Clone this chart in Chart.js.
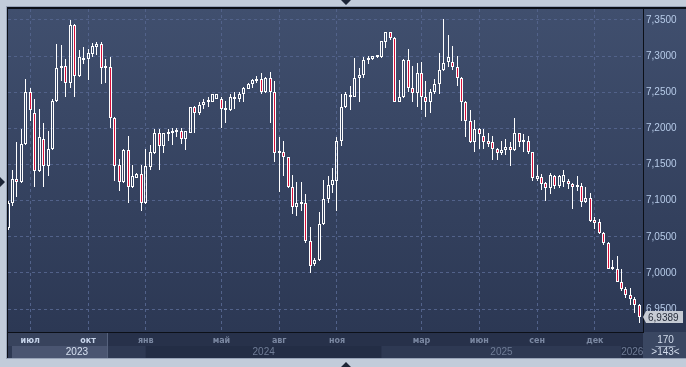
<!DOCTYPE html>
<html lang="ru">
<head>
<meta charset="UTF-8">
<title>Недельные свечи</title>
<script src="https://cdn.jsdelivr.net/npm/chart.js"></script>
<style>
  html, body { margin: 0; padding: 0; background: #c2ccda; }
  canvas { display: block; }
</style>
</head>
<body>
<canvas id="candleChart" width="686" height="367"></canvas>
<script>
// weekly candles (143 shown)
const opens = [
  7.062, 7.097, 7.130, 7.126, 7.179, 7.250, 7.221, 7.141, 7.186, 7.148,
  7.172, 7.238, 7.284, 7.287, 7.263, 7.343, 7.273, 7.295, 7.296, 7.303,
  7.313, 7.317, 7.284, 7.285, 7.214, 7.149, 7.126, 7.170, 7.119, 7.132,
  7.137, 7.097, 7.146, 7.166, 7.194, 7.175, 7.192, 7.193, 7.195, 7.197,
  7.186, 7.194, 7.229, 7.221, 7.233, 7.236, 7.237, 7.241, 7.241, 7.225,
  7.225, 7.241, 7.241, 7.248, 7.255, 7.262, 7.265, 7.268, 7.250, 7.270,
  7.250, 7.166, 7.168, 7.160, 7.119, 7.091, 7.097, 7.097, 7.044, 7.013,
  7.018, 7.068, 7.102, 7.121, 7.127, 7.182, 7.229, 7.245, 7.244, 7.270,
  7.274, 7.295, 7.296, 7.299, 7.299, 7.320, 7.333, 7.325, 7.237, 7.243,
  7.295, 7.256, 7.249, 7.277, 7.244, 7.237, 7.250, 7.262, 7.281, 7.292,
  7.292, 7.285, 7.270, 7.237, 7.210, 7.181, 7.199, 7.190, 7.182, 7.181,
  7.172, 7.166, 7.170, 7.174, 7.170, 7.193, 7.181, 7.183, 7.167, 7.130,
  7.133, 7.124, 7.117, 7.134, 7.120, 7.126, 7.127, 7.123, 7.119, 7.120,
  7.098, 7.104, 7.073, 7.070, 7.055, 7.042, 7.006, 7.005, 6.988, 6.978,
  6.970, 6.964, 6.956
];
const highs = [
  7.100, 7.142, 7.181, 7.199, 7.269, 7.256, 7.241, 7.227, 7.207, 7.196,
  7.240, 7.317, 7.316, 7.296, 7.350, 7.345, 7.309, 7.313, 7.310, 7.318,
  7.320, 7.320, 7.296, 7.299, 7.216, 7.157, 7.171, 7.189, 7.150, 7.138,
  7.150, 7.171, 7.177, 7.199, 7.199, 7.194, 7.199, 7.200, 7.200, 7.200,
  7.197, 7.230, 7.231, 7.236, 7.240, 7.244, 7.248, 7.248, 7.244, 7.238,
  7.247, 7.250, 7.250, 7.257, 7.263, 7.269, 7.273, 7.277, 7.271, 7.278,
  7.266, 7.188, 7.183, 7.161, 7.135, 7.126, 7.126, 7.109, 7.064, 7.020,
  7.084, 7.128, 7.134, 7.145, 7.188, 7.248, 7.250, 7.259, 7.298, 7.283,
  7.299, 7.300, 7.300, 7.300, 7.321, 7.334, 7.334, 7.326, 7.267, 7.296,
  7.310, 7.287, 7.291, 7.292, 7.266, 7.254, 7.269, 7.305, 7.351, 7.329,
  7.314, 7.300, 7.271, 7.238, 7.226, 7.211, 7.200, 7.199, 7.193, 7.189,
  7.173, 7.183, 7.185, 7.181, 7.214, 7.194, 7.192, 7.189, 7.168, 7.150,
  7.137, 7.126, 7.138, 7.135, 7.135, 7.143, 7.130, 7.124, 7.134, 7.124,
  7.119, 7.110, 7.077, 7.075, 7.057, 7.043, 7.018, 7.024, 7.006, 6.980,
  6.979, 6.967, 6.957
];
const lows = [
  7.060, 7.092, 7.105, 7.124, 7.177, 7.210, 7.119, 7.139, 7.119, 7.134,
  7.170, 7.236, 7.265, 7.243, 7.256, 7.244, 7.271, 7.289, 7.267, 7.299,
  7.302, 7.261, 7.263, 7.201, 7.127, 7.113, 7.124, 7.097, 7.117, 7.131,
  7.086, 7.095, 7.143, 7.164, 7.143, 7.166, 7.182, 7.177, 7.188, 7.179,
  7.170, 7.193, 7.193, 7.219, 7.227, 7.230, 7.236, 7.240, 7.200, 7.207,
  7.224, 7.227, 7.237, 7.237, 7.254, 7.256, 7.263, 7.248, 7.249, 7.207,
  7.154, 7.112, 7.134, 7.118, 7.081, 7.079, 7.086, 7.042, 7.000, 7.009,
  7.017, 7.067, 7.097, 7.110, 7.086, 7.175, 7.228, 7.225, 7.243, 7.237,
  7.270, 7.289, 7.295, 7.298, 7.298, 7.311, 7.322, 7.236, 7.236, 7.242,
  7.250, 7.236, 7.229, 7.226, 7.216, 7.221, 7.248, 7.248, 7.280, 7.285,
  7.281, 7.259, 7.210, 7.188, 7.180, 7.168, 7.171, 7.171, 7.174, 7.156,
  7.156, 7.163, 7.163, 7.148, 7.169, 7.174, 7.168, 7.164, 7.127, 7.127,
  7.115, 7.100, 7.109, 7.116, 7.118, 7.119, 7.116, 7.088, 7.113, 7.091,
  7.097, 7.071, 7.061, 7.054, 7.039, 7.005, 7.004, 6.987, 6.975, 6.966,
  6.956, 6.944, 6.931
];
const closes = [
  7.097, 7.130, 7.126, 7.179, 7.250, 7.226, 7.141, 7.188, 7.148, 7.172,
  7.238, 7.284, 7.287, 7.263, 7.343, 7.273, 7.299, 7.297, 7.305, 7.314,
  7.317, 7.284, 7.286, 7.214, 7.148, 7.126, 7.170, 7.119, 7.134, 7.137,
  7.097, 7.148, 7.167, 7.194, 7.175, 7.193, 7.193, 7.196, 7.196, 7.186,
  7.196, 7.229, 7.221, 7.233, 7.236, 7.238, 7.247, 7.247, 7.227, 7.227,
  7.243, 7.244, 7.248, 7.256, 7.262, 7.267, 7.268, 7.250, 7.270, 7.250,
  7.166, 7.168, 7.160, 7.119, 7.091, 7.097, 7.096, 7.044, 7.010, 7.018,
  7.068, 7.102, 7.121, 7.128, 7.183, 7.229, 7.248, 7.244, 7.270, 7.274,
  7.295, 7.297, 7.300, 7.300, 7.321, 7.333, 7.325, 7.237, 7.243, 7.295,
  7.256, 7.249, 7.277, 7.244, 7.237, 7.250, 7.262, 7.281, 7.291, 7.299,
  7.285, 7.270, 7.237, 7.210, 7.181, 7.199, 7.192, 7.181, 7.179, 7.172,
  7.166, 7.170, 7.174, 7.170, 7.193, 7.181, 7.183, 7.167, 7.131, 7.134,
  7.123, 7.117, 7.135, 7.120, 7.134, 7.135, 7.123, 7.119, 7.121, 7.098,
  7.104, 7.072, 7.069, 7.055, 7.042, 7.006, 7.005, 6.988, 6.978, 6.970,
  6.964, 6.956, 6.9389
];

// axis labels: bar index where each month / year starts
const monthTicks = [5, 18, 31, 48, 61, 74, 93, 106, 119, 132];
const monthLabels = ['июл', 'окт', 'янв', 'май', 'авг', 'ноя', 'мар', 'июн', 'сен', 'дек'];
const yearStarts = [0, 31, 84, 138];
const yearLabels = ['2023', '2024', '2025', '2026'];
const priceTicks = [6.95, 7.00, 7.05, 7.10, 7.15, 7.20, 7.25, 7.30, 7.35];
const barsTotal = 170;
const selEnd = 22.5; // end of the highlighted navigator box

const fmt = v => v.toFixed(4).replace('.', ',');

const bodies = opens.map((o, i) => ({ x: i, y: [o, closes[i]] }));
const upperWicks = highs.map((h, i) => ({ x: i, y: [Math.max(opens[i], closes[i]), h] }));
const lowerWicks = lows.map((l, i) => ({ x: i, y: [l, Math.min(opens[i], closes[i])] }));

// snap the bars the scales placed onto whole pixels so the candles stay sharp
const snapPlugin = {
  id: 'snap',
  afterDatasetsUpdate(chart) {
    chart.data.datasets.forEach((ds, di) => {
      chart.getDatasetMeta(di).data.forEach(el => {
        el.x = Math.round(el.x - 0.5) + 0.5;
        el.y = Math.round(el.y);
        el.base = Math.round(el.base);
      });
    });
  }
};

const framePlugin = {
  id: 'frame',
  beforeDraw(chart) {
    const { ctx, chartArea: a, width, height } = chart;
    const xs = chart.scales.x;
    ctx.save();
    ctx.fillStyle = '#c2ccda';
    ctx.fillRect(0, 0, width, height);
    ctx.fillStyle = '#97a3b8';
    ctx.fillRect(6, 6, width - 6, 353);
    ctx.fillStyle = '#0c1018';
    ctx.fillRect(7, 7, width - 7, 351);

    // panel gradient (plot + price axis)
    const g = ctx.createLinearGradient(0, a.top, 0, a.bottom);
    g.addColorStop(0, '#404f6e');
    g.addColorStop(1, '#2c3854');
    ctx.fillStyle = g;
    ctx.fillRect(a.left, a.top, width - a.left, a.bottom - a.top);

    // time axis rows
    const rowTop = a.bottom + 1, rowMid = a.bottom + 14, rowBot = a.bottom + 26;
    ctx.fillStyle = '#27314a';
    ctx.fillRect(a.left, rowTop, a.right - a.left, rowBot - rowTop);
    yearStarts.forEach((s, k) => {
      const x0 = Math.max(a.left, xs.getPixelForValue(s));
      const x1 = k + 1 < yearStarts.length ? xs.getPixelForValue(yearStarts[k + 1]) : a.right;
      ctx.fillStyle = k % 2 === 0 ? '#2e3953' : '#232d45';
      ctx.fillRect(x0, rowMid, x1 - x0, rowBot - rowMid);
    });
    const sx = Math.round(xs.getPixelForValue(selEnd));
    ctx.fillStyle = '#38435d';
    ctx.fillRect(a.left, rowTop, sx - a.left, rowMid - rowTop);
    ctx.fillStyle = '#4a5571';
    ctx.fillRect(a.left + 4, rowMid, sx - a.left - 4, rowBot - rowMid);
    ctx.fillStyle = '#56627d';
    ctx.fillRect(sx - 1, rowTop, 1, rowBot - rowTop);

    // corner box
    ctx.fillStyle = '#3a4762';
    ctx.fillRect(a.right, rowTop - 1, width - a.right, rowBot - rowTop + 1);
    ctx.fillStyle = '#0c1018';
    ctx.fillRect(a.left, a.top - 1, width - a.left, 1);
    ctx.restore();
  },
  afterDraw(chart) {
    const { ctx, chartArea: a, width, height } = chart;
    const xs = chart.scales.x, ys = chart.scales.y;
    ctx.save();
    ctx.beginPath();
    ctx.rect(a.left, a.bottom, a.right - a.left, 30);
    ctx.clip();
    ctx.textAlign = 'center';
    ctx.textBaseline = 'middle';
    ctx.font = 'bold 8px "DejaVu Sans"';
    monthTicks.forEach((v, i) => {
      ctx.fillStyle = v < selEnd ? '#c9d6ec' : '#7b88a2';
      ctx.fillText(monthLabels[i], xs.getPixelForValue(v), a.bottom + 9);
    });
    ctx.font = '10px "Liberation Sans"';
    yearStarts.forEach((s, k) => {
      const x0 = xs.getPixelForValue(s);
      const x1 = k + 1 < yearStarts.length ? xs.getPixelForValue(yearStarts[k + 1]) : a.right;
      ctx.fillStyle = k === 0 ? '#d6e0f0' : '#6f7c96';
      ctx.fillText(yearLabels[k], (Math.max(x0, a.left) + x1) / 2, a.bottom + 20);
    });
    ctx.restore();

    // corner counters
    ctx.save();
    ctx.font = '10px "Liberation Sans"';
    ctx.textAlign = 'center';
    ctx.textBaseline = 'middle';
    ctx.fillStyle = '#d2dcec';
    const cx = (a.right + width) / 2 + 1;
    ctx.fillText(String(barsTotal), cx, a.bottom + 8);
    ctx.fillText('>' + closes.length + '<', cx, a.bottom + 20);
    ctx.fillStyle = '#8f9cb4';
    ctx.fillRect(cx - 10, a.bottom + 14, 20, 1);

    // last price tag
    const last = closes[closes.length - 1];
    const py = Math.round(ys.getPixelForValue(last));
    ctx.fillStyle = '#c6cbd4';
    ctx.beginPath();
    ctx.moveTo(a.right, py);
    ctx.lineTo(a.right + 3, py - 6);
    ctx.lineTo(width - 3, py - 6);
    ctx.lineTo(width - 3, py + 6);
    ctx.lineTo(a.right + 3, py + 6);
    ctx.closePath();
    ctx.fill();
    ctx.fillStyle = '#262d3b';
    ctx.textAlign = 'left';
    ctx.fillText(fmt(last), a.right + 5, py + 1);

    // navigator markers
    ctx.fillStyle = '#1c2536';
    ctx.beginPath();
    ctx.moveTo(341, 0); ctx.lineTo(351, 0); ctx.lineTo(346, 5); ctx.closePath();
    ctx.moveTo(341, height); ctx.lineTo(351, height); ctx.lineTo(346, height - 5); ctx.closePath();
    ctx.moveTo(0, 177); ctx.lineTo(0, 187); ctx.lineTo(5, 182); ctx.closePath();
    ctx.fill();
    ctx.restore();
  }
};

new Chart(document.getElementById('candleChart'), {
  type: 'bar',
  data: {
    datasets: [
      {
        data: bodies,
        barThickness: 3,
        borderWidth: 1,
        borderColor: '#ffffff',
        borderSkipped: false,
        inflateAmount: 0,
        minBarLength: 2,
        backgroundColor: ctx => closes[ctx.dataIndex] >= opens[ctx.dataIndex] ? 'rgba(0,0,0,0)' : '#d8103a',
        clip: 0
      },
      {
        data: upperWicks,
        barThickness: 1,
        borderWidth: 0,
        inflateAmount: 0,
        backgroundColor: '#ffffff',
        clip: 0
      },
      {
        data: lowerWicks,
        barThickness: 1,
        borderWidth: 0,
        inflateAmount: 0,
        backgroundColor: '#ffffff',
        clip: 0
      }
    ]
  },
  options: {
    responsive: false,
    animation: false,
    devicePixelRatio: 1,
    grouped: false,
    layout: { padding: { left: 8, top: 8, right: 0, bottom: 9 } },
    plugins: { legend: { display: false }, tooltip: { enabled: false } },
    scales: {
      x: {
        type: 'linear',
        min: 0,
        max: 142.83,
        offset: false,
        afterBuildTicks: s => { s.ticks = monthTicks.map(v => ({ value: v })); },
        afterFit: s => { s.height = 26; },
        ticks: { display: false },
        grid: { offset: false, drawTicks: false, color: '#52628a', lineWidth: 1 },
        border: { display: true, color: '#0c1018', width: 1, dash: [3, 3] }
      },
      y: {
        position: 'right',
        min: 6.9183,
        max: 7.3652,
        afterBuildTicks: s => { s.ticks = priceTicks.map(v => ({ value: v })); },
        afterFit: s => { s.width = 43; },
        ticks: {
          padding: 3,
          color: '#b7cbe8',
          font: { family: 'Liberation Sans', size: 10 },
          callback: v => fmt(v)
        },
        grid: { drawTicks: false, color: '#52628a', lineWidth: 1 },
        border: { display: true, color: '#0c1018', width: 1, dash: [3, 3] }
      }
    }
  },
  plugins: [snapPlugin, framePlugin]
});
</script>
</body>
</html>
